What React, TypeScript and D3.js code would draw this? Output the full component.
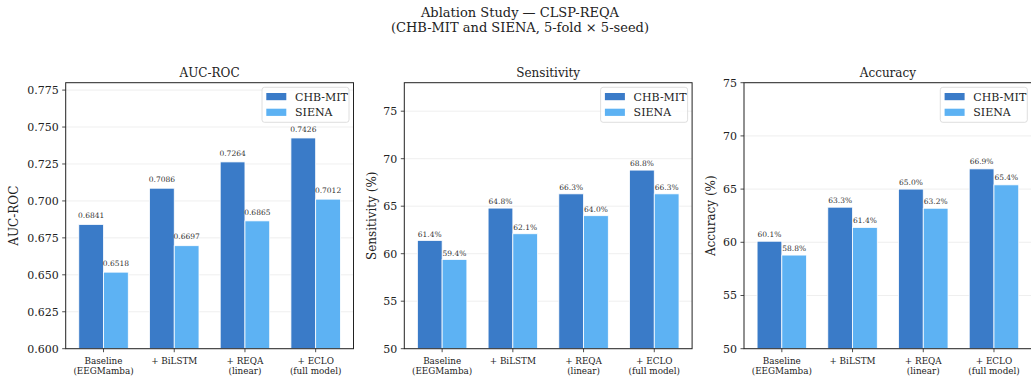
import React from "react";
import * as d3 from "d3";

const categories = [["Baseline", "(EEGMamba)"], ["+ BiLSTM"], ["+ REQA", "(linear)"], ["+ ECLO", "(full model)"]];
const seriesNames = ["CHB-MIT", "SIENA"];
const aucChb = [0.6841, 0.7086, 0.7264, 0.7426];
const aucSiena = [0.6518, 0.6697, 0.6865, 0.7012];
const sensChb = [61.4, 64.8, 66.3, 68.8];
const sensSiena = [59.4, 62.1, 64.0, 66.3];
const accChb = [60.1, 63.3, 65.0, 66.9];
const accSiena = [58.8, 61.4, 63.2, 65.4];
const aucTicks = [0.6, 0.625, 0.65, 0.675, 0.7, 0.725, 0.75, 0.775];
const pctTicksSens = [50, 55, 60, 65, 70, 75];
const pctTicksAcc = [50, 55, 60, 65, 70, 75];

const COLORS = ["#3a7bc8", "#5db2f3"];
const FONT = "'DejaVu Serif', serif";
const W = 1031, H = 377;

type PanelDef = {
  title: string; ylabel: string; a: number[]; b: number[];
  domain: [number, number]; ticks: number[]; tickFmt: (v: number) => string;
  labelFmt: (v: number) => string; offset: number; left: number; ylabX: number;
};

const panels: PanelDef[] = [
  { title: "AUC-ROC", ylabel: "AUC-ROC", a: aucChb, b: aucSiena, domain: [0.6, 0.78], ticks: aucTicks,
    tickFmt: (v) => v.toFixed(3), labelFmt: (v) => v.toFixed(4), offset: 0.003, left: 65.7, ylabX: 14 },
  { title: "Sensitivity", ylabel: "Sensitivity (%)", a: sensChb, b: sensSiena, domain: [50, 78], ticks: pctTicksSens,
    tickFmt: (v) => String(v), labelFmt: (v) => v.toFixed(1) + "%", offset: 0.2, left: 404.3, ylabX: 371.7 },
  { title: "Accuracy", ylabel: "Accuracy (%)", a: accChb, b: accSiena, domain: [50, 75], ticks: pctTicksAcc,
    tickFmt: (v) => String(v), labelFmt: (v) => v.toFixed(1) + "%", offset: 0.25, left: 744, ylabX: 710.7 },
];

const TOP = 82.7, PH = 266, PW = 287.8, BW = 0.35;

function Panel({ p }: { p: PanelDef }) {
  const x = d3.scaleLinear().domain([-0.535, 3.535]).range([p.left, p.left + PW]);
  const y = d3.scaleLinear().domain(p.domain).range([TOP + PH, TOP]);
  const bw = x(BW) - x(0);
  const series = [p.a, p.b];
  const legX = p.left + PW - 4.5 - 87;
  const legY = TOP + 4.6;
  return (
    <g>
      {p.ticks.map((t) => (
        <line key={"g" + t} x1={p.left} x2={p.left + PW} y1={y(t)} y2={y(t)} stroke="#ebebeb" strokeWidth={0.8} />
      ))}
      {series.map((vals, si) =>
        vals.map((v, i) => {
          const x0 = si === 0 ? x(i) - bw : x(i);
          return (
            <rect key={si + "-" + i} x={x0} y={y(v)} width={bw} height={y(p.domain[0]) - y(v)}
              fill={COLORS[si]} stroke="#ffffff" strokeWidth={0.8} />
          );
        })
      )}
      {series.map((vals, si) =>
        vals.map((v, i) => {
          const cx = si === 0 ? x(i) - bw / 2 : x(i) + bw / 2;
          return (
            <text key={"l" + si + "-" + i} x={cx} y={y(v + p.offset) - 1.8} textAnchor="middle"
              fontSize={7.5} fill="#333" fontFamily={FONT}>{p.labelFmt(v)}</text>
          );
        })
      )}
      <rect x={p.left} y={TOP} width={PW} height={PH} fill="none" stroke="#222" strokeWidth={1} />
      {p.ticks.map((t) => (
        <g key={"t" + t}>
          <line x1={p.left - 3.5} x2={p.left} y1={y(t)} y2={y(t)} stroke="#222" strokeWidth={0.8} />
          <text x={p.left - 7} y={y(t)} dy="0.36em" textAnchor="end" fontSize={11} fill="#222" fontFamily={FONT}>{p.tickFmt(t)}</text>
        </g>
      ))}
      {categories.map((c, i) => (
        <g key={"x" + i}>
          <line x1={x(i)} x2={x(i)} y1={TOP + PH} y2={TOP + PH + 3.5} stroke="#222" strokeWidth={0.8} />
          {c.map((line, li) => (
            <text key={li} x={x(i)} y={TOP + PH + 15 + li * 10.6} textAnchor="middle" fontSize={8.8} fill="#222" fontFamily={FONT}>{line}</text>
          ))}
        </g>
      ))}
      <text x={p.left + PW / 2} y={TOP - 6} textAnchor="middle" fontSize={12} fill="#222" fontFamily={FONT}>{p.title}</text>
      <text transform={`translate(${p.ylabX},${TOP + PH / 2}) rotate(-90)`} textAnchor="middle" dy="0.36em" fontSize={12} fill="#222" fontFamily={FONT}>{p.ylabel}</text>
      <rect x={legX} y={legY} width={87} height={35} rx={2.5} fill="#ffffff" fillOpacity={0.8} stroke="#d6d6d6" strokeWidth={0.8} />
      {seriesNames.map((n, si) => (
        <g key={n}>
          <rect x={legX + 4.3} y={legY + 9.3 + si * 15.7 - 3.6} width={20} height={7.2} fill={COLORS[si]} />
          <text x={legX + 33} y={legY + 9.3 + si * 15.7} dy="0.36em" fontSize={11} fill="#222" fontFamily={FONT}>{n}</text>
        </g>
      ))}
    </g>
  );
}

export default function App() {
  return (
    <svg width={W} height={H} style={{ position: "absolute", left: 0, top: 0, background: "#fff" }}>
      <rect width={W} height={H} fill="#fff" />
      <text x={520} y={17} textAnchor="middle" fontSize={13} fill="#222" fontFamily={FONT}>Ablation Study — CLSP-REQA</text>
      <text x={520} y={32} textAnchor="middle" fontSize={13} fill="#222" fontFamily={FONT}>(CHB-MIT and SIENA, 5-fold × 5-seed)</text>
      {panels.map((p) => <Panel key={p.title} p={p} />)}
    </svg>
  );
}
